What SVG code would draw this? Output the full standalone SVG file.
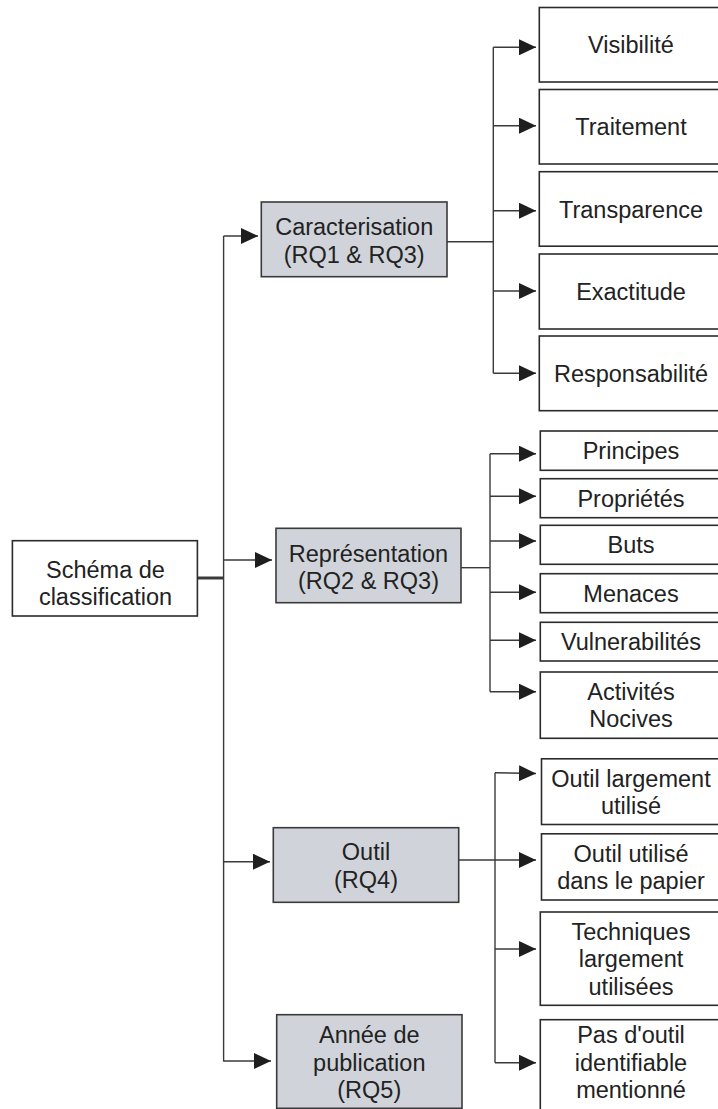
<svg xmlns="http://www.w3.org/2000/svg" width="718" height="1109" viewBox="0 0 718 1109">
<style>
.box{fill:#ffffff;stroke:#2b2b2b;stroke-width:1.6}
.cat{fill:#d0d4da;stroke:#3a3a3a;stroke-width:1.6}
text{font-family:"Liberation Sans",Arial,Helvetica,sans-serif;font-size:23.5px;fill:#222;text-anchor:middle}
.ln{fill:none;stroke:#3a3a3a;stroke-width:1.4}
.arr{fill:none;stroke:#3a3a3a;stroke-width:1.4;marker-end:url(#ah)}
</style>
<defs>
<marker id="ah" viewBox="0 0 17 16" markerWidth="17" markerHeight="16" refX="17" refY="8" orient="auto" markerUnits="userSpaceOnUse">
<path d="M0,0 L17,8 L0,16 z" fill="#1e1e1e"/>
</marker>
</defs>
<rect width="718" height="1109" fill="#ffffff"/>
<g id="connectors">
<line class="ln" x1="195" y1="578" x2="223.6" y2="578" style="stroke-width:3"/>
<line class="ln" x1="223.6" y1="236" x2="223.6" y2="1061.5"/>
<path class="arr" d="M223.6,236 H258"/>
<path class="arr" d="M223.6,560 H272"/>
<path class="arr" d="M223.6,861.7 H270"/>
<path class="arr" d="M223.6,1061 H271"/>
<path class="ln" d="M447,241.7 H493.3"/>
<line class="ln" x1="493.3" y1="47.3" x2="493.3" y2="373.3"/>
<path class="arr" d="M493.3,47.3 H536"/>
<path class="arr" d="M493.3,125.7 H536"/>
<path class="arr" d="M493.3,210.7 H536"/>
<path class="arr" d="M493.3,291 H536"/>
<path class="arr" d="M493.3,373.3 H536"/>
<path class="ln" d="M461,567.7 H490"/>
<line class="ln" x1="490" y1="453.7" x2="490" y2="691.7"/>
<path class="arr" d="M490,453.7 H536"/>
<path class="arr" d="M490,496.3 H536"/>
<path class="arr" d="M490,541 H536"/>
<path class="arr" d="M490,592.3 H536"/>
<path class="arr" d="M490,640.3 H536"/>
<path class="arr" d="M490,691.7 H536"/>
<line class="ln" x1="495" y1="772.7" x2="495" y2="1062.7"/>
<path class="arr" d="M495,772.7 L536,773.5"/>
<path class="arr" d="M458.7,860 H536"/>
<path class="arr" d="M495,949 H536"/>
<path class="arr" d="M495,1062.7 H536"/>
</g>
<g id="schema">
<rect class="box" x="12.4" y="540.7" width="185" height="75.3"/>
<text x="105.5" y="578">Schéma de</text>
<text x="105.5" y="605">classification</text>
</g>
<g id="caracterisation">
<rect class="cat" x="261.3" y="202" width="185.7" height="74.7"/>
<text x="354.2" y="235">Caracterisation</text>
<text x="354.2" y="263">(RQ1 &amp; RQ3)</text>
</g>
<g id="representation">
<rect class="cat" x="276" y="528.3" width="185" height="74.4"/>
<text x="368.5" y="561.5">Représentation</text>
<text x="368.5" y="588.5">(RQ2 &amp; RQ3)</text>
</g>
<g id="outil">
<rect class="cat" x="273.3" y="827.7" width="185.4" height="74.6"/>
<text x="366" y="860">Outil</text>
<text x="366" y="887.5">(RQ4)</text>
</g>
<g id="annee">
<rect class="cat" x="276.7" y="1014.7" width="185.3" height="93.6"/>
<text x="369.3" y="1043">Année de</text>
<text x="369.3" y="1070.5">publication</text>
<text x="369.3" y="1098">(RQ5)</text>
</g>
<g id="visibilite">
<rect class="box" x="539.3" y="7.5" width="185" height="74.5"/>
<text x="631" y="53.3">Visibilité</text>
</g>
<g id="traitement">
<rect class="box" x="539.3" y="89.5" width="185" height="74.5"/>
<text x="631" y="135.3">Traitement</text>
</g>
<g id="transparence">
<rect class="box" x="539.3" y="171.7" width="185" height="74.5"/>
<text x="631" y="217.5">Transparence</text>
</g>
<g id="exactitude">
<rect class="box" x="539.3" y="254" width="185" height="75"/>
<text x="631" y="300">Exactitude</text>
</g>
<g id="responsabilite">
<rect class="box" x="539.3" y="336" width="185" height="74.7"/>
<text x="631" y="382">Responsabilité</text>
</g>
<g id="principes">
<rect class="box" x="540.3" y="431" width="185" height="39.3"/>
<text x="631" y="459">Principes</text>
</g>
<g id="proprietes">
<rect class="box" x="540.3" y="478.7" width="185" height="39"/>
<text x="631" y="506.7">Propriétés</text>
</g>
<g id="buts">
<rect class="box" x="540.3" y="525.3" width="185" height="39"/>
<text x="631" y="553.3">Buts</text>
</g>
<g id="menaces">
<rect class="box" x="540.3" y="573.7" width="185" height="39"/>
<text x="631" y="601.7">Menaces</text>
</g>
<g id="vulnerabilites">
<rect class="box" x="540.3" y="622.3" width="185" height="38.7"/>
<text x="631" y="650">Vulnerabilités</text>
</g>
<g id="activites">
<rect class="box" x="540.3" y="672" width="185" height="66.3"/>
<text x="631" y="699.5">Activités</text>
<text x="631" y="727">Nocives</text>
</g>
<g id="outil-largement">
<rect class="box" x="541.5" y="758.8" width="185" height="65.7"/>
<text x="631" y="786.5">Outil largement</text>
<text x="631" y="813.5">utilisé</text>
</g>
<g id="outil-papier">
<rect class="box" x="541.5" y="833.8" width="185" height="66.2"/>
<text x="631" y="862">Outil utilisé</text>
<text x="631" y="889">dans le papier</text>
</g>
<g id="techniques">
<rect class="box" x="540.3" y="912" width="185" height="93.3"/>
<text x="631" y="939.7">Techniques</text>
<text x="631" y="967.2">largement</text>
<text x="631" y="994.5">utilisées</text>
</g>
<g id="pas-outil">
<rect class="box" x="540.3" y="1019.7" width="185" height="100"/>
<text x="631" y="1043.3">Pas d'outil</text>
<text x="631" y="1070.5">identifiable</text>
<text x="631" y="1098">mentionné</text>
</g>
</svg>
